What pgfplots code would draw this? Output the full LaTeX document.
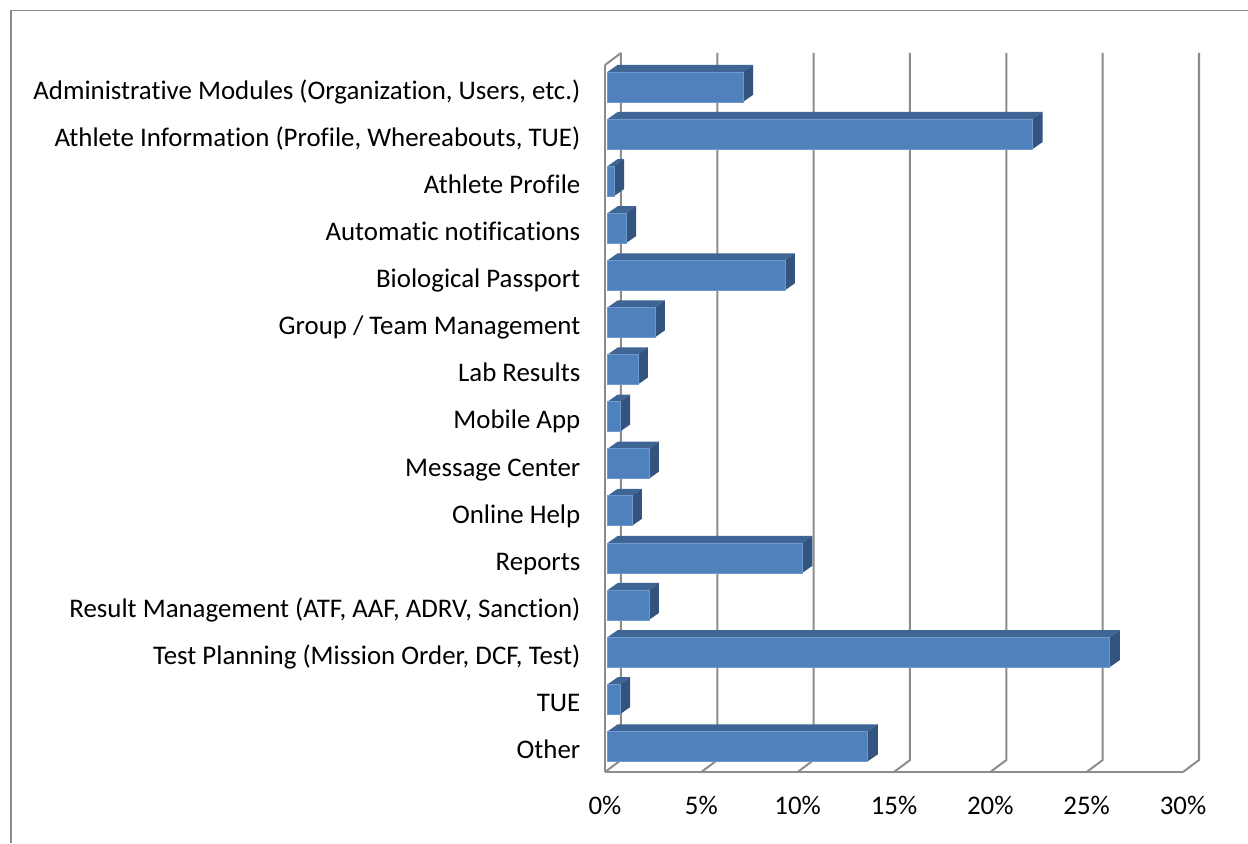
\documentclass[border=0pt]{standalone}
\usepackage{fontspec}
\setmainfont[Ligatures=NoCommon]{Carlito}
\usepackage{pgfplots}
\pgfplotsset{compat=1.18}
\definecolor{frontc}{HTML}{4F81BD}
\definecolor{edgec}{HTML}{6F9AD0}
\definecolor{topc}{HTML}{3F6594}
\definecolor{sidec}{HTML}{345480}
\definecolor{gridc}{HTML}{8C8C8C}
\newcommand\bevel[2]{%
  \pgfmathsetmacro\xa{0.14}%
  \pgfmathsetmacro\xb{0.14+#2}%
  \pgfmathsetmacro\xc{0.659}%
  \pgfmathsetmacro\xd{0.659+#2}%
  \pgfmathsetmacro\yt{#1+0.3184}%
  \pgfmathsetmacro\yb{#1-0.3184}%
  \pgfmathsetmacro\ytt{#1+0.3184+0.1486}%
  \pgfmathsetmacro\ybb{#1-0.3184+0.1486}%
  \edef\tmp{\noexpand\addplot[draw=none,fill=topc,forget plot] coordinates {(\xa,\yt)(\xb,\yt)(\xd,\ytt)(\xc,\ytt)} -- cycle;}\tmp
  \edef\tmp{\noexpand\addplot[draw=none,fill=sidec,forget plot] coordinates {(\xb,\yt)(\xd,\ytt)(\xd,\ybb)(\xb,\yb)} -- cycle;}\tmp
}
\newcommand\wall[1]{%
  \pgfmathsetmacro\xa{#1}%
  \pgfmathsetmacro\xb{#1+0.83}%
  \edef\tmp{\noexpand\addplot[gridc,line width=1.5pt,forget plot] coordinates {(\xa,-0.5455)(\xb,-0.291)(\xb,14.7185)};}\tmp
}
\begin{document}
\begin{tikzpicture}
\fill[white] (0,0) rectangle (936pt,632.25pt);
\useasboundingbox (0,0) rectangle (936pt,632.25pt);
\draw[gridc,line width=1.1pt] (8.25pt,0) -- (8.25pt,624.4pt) -- (936pt,624.4pt);
\begin{axis}[
  at={(453.75pt,53.25pt)},anchor=south west,
  scale only axis,width=433.5pt,height=530.25pt,
  xmin=0,xmax=30,ymin=-0.5455,ymax=14.4637,
  axis x line*=bottom,axis y line*=left,
  axis line style={gridc,line width=1.5pt,-},
  clip=false,
  major tick length=0pt,
  xtick={0,5,10,15,20,25,30},
  xticklabels={0\%,5\%,10\%,15\%,20\%,25\%,30\%},
  ytick={0,...,14},
  yticklabels={Other,TUE,{Test Planning (Mission Order, DCF, Test)},{Result Management (ATF, AAF, ADRV, Sanction)},Reports,Online Help,Message Center,Mobile App,Lab Results,Group / Team Management,Biological Passport,Automatic notifications,Athlete Profile,{Athlete Information (Profile, Whereabouts, TUE)},{Administrative Modules (Organization, Users, etc.)}},
  tick label style={font=\fontsize{20.15}{22}\selectfont,black,text height=14pt,text depth=4.5pt,inner ysep=0pt},
  xticklabel style={yshift=-17.5pt},
  yticklabel style={xshift=-15pt,yshift=-4.5pt},
]
\wall{0}\wall{5}\wall{10}\wall{15}\wall{20}\wall{25}\wall{30}
\addplot[gridc,line width=1.5pt,forget plot] coordinates {(0,14.4637)(0.83,14.7185)};
\bevel{14}{7.03}
\bevel{13}{22.06}
\bevel{12}{0.33}
\bevel{11}{0.95}
\bevel{10}{9.2}
\bevel{9}{2.45}
\bevel{8}{1.57}
\bevel{7}{0.64}
\bevel{6}{2.14}
\bevel{5}{1.26}
\bevel{4}{10.1}
\bevel{3}{2.14}
\bevel{2}{26.06}
\bevel{1}{0.64}
\bevel{0}{13.5}
\addplot[xbar,bar width=22.5pt,bar shift=0pt,xshift=2.025pt,fill=frontc,draw=edgec,line width=0.5pt] coordinates {
(7.03,14)(22.06,13)(0.33,12)(0.95,11)(9.2,10)(2.45,9)(1.57,8)(0.64,7)(2.14,6)(1.26,5)(10.1,4)(2.14,3)(26.06,2)(0.64,1)(13.5,0)};
\end{axis}
\end{tikzpicture}
\end{document}
